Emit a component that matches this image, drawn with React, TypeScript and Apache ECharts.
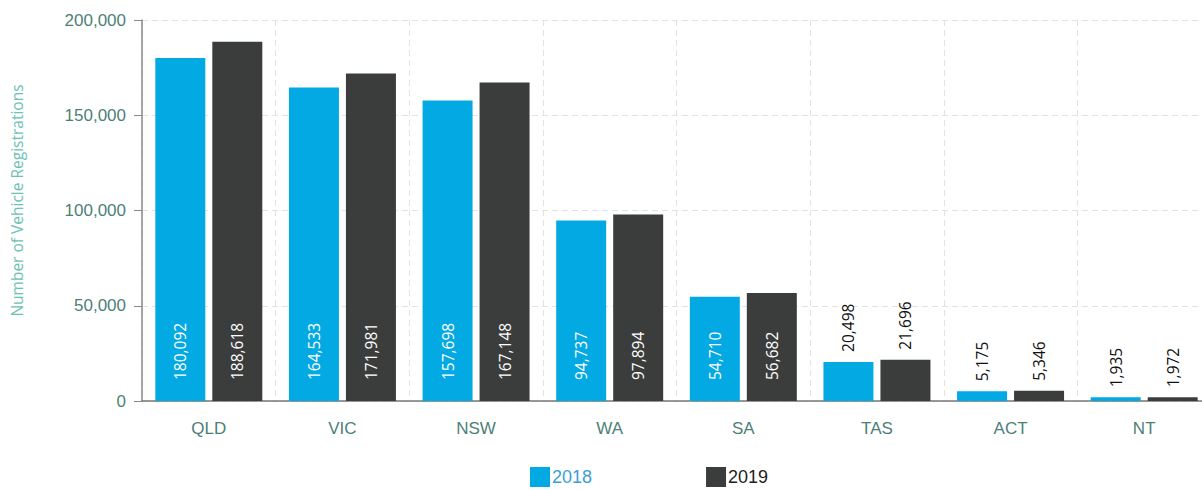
import React, { useEffect, useRef } from "react";
import * as echarts from "echarts";

const categories = ["QLD", "VIC", "NSW", "WA", "SA", "TAS", "ACT", "NT"];
const values2018 = [180092, 164533, 157698, 94737, 54710, 20498, 5175, 1935];
const values2019 = [188618, 171981, 167148, 97894, 56682, 21696, 5346, 1972];
const yTicks = { min: 0, max: 200000, interval: 50000 };

const fmt = (v: number) => v.toLocaleString("en-US");

function buildData(vals: number[]) {
  return vals.map((v) =>
    v < 30000
      ? {
          value: v,
          label: {
            show: true,
            position: "top",
            distance: 10,
            rotate: 90,
            align: "left",
            verticalAlign: "middle",
            color: "#111",
          },
        }
      : v
  );
}

export default function App() {
  const ref = useRef<HTMLDivElement>(null);
  useEffect(() => {
    document.body.style.margin = "0";
    document.body.style.overflow = "hidden";
    const chart = echarts.init(ref.current!, undefined, { renderer: "svg" });
    const labelBase = {
      show: true,
      position: "insideBottom",
      distance: 21,
      rotate: 90,
      align: "left",
      verticalAlign: "middle",
      color: "#fff",
      fontFamily: "Open Sans",
      fontSize: 15.5,
      formatter: (p: any) => fmt(p.value),
    };
    chart.setOption({
      animation: false,
      grid: { left: 142, right: 0, top: 20, bottom: 89, outerBoundsMode: "none", containLabel: false },
      legend: {
        left: 525,
        top: 462,
        itemWidth: 20,
        itemHeight: 20,
        itemGap: 114,
        icon: "rect",
        textStyle: { fontFamily: "Arial, Liberation Sans", fontSize: 18, padding: [0, 0, 0, -3] },
        data: [
          { name: "2018", textStyle: { color: "#3a9fd6" } },
          { name: "2019", textStyle: { color: "#222" } },
        ],
      },
      xAxis: {
        type: "category",
        data: categories,
        axisLine: { lineStyle: { color: "#777", width: 1.5 } },
        axisTick: { alignWithLabel: true, length: 4, lineStyle: { color: "#888" } },
        axisLabel: {
          color: "#4d7f78",
          fontFamily: "Arial, Liberation Sans",
          fontSize: 17,
          margin: 19,
        },
        splitLine: { show: true, lineStyle: { color: "#e2e2e2", type: [6, 4] } },
      },
      yAxis: {
        type: "value",
        min: yTicks.min,
        max: yTicks.max,
        interval: yTicks.interval,
        name: "Number of Vehicle Registrations",
        nameLocation: "middle",
        nameGap: 117,
        nameTextStyle: {
          color: "#6cc2b4",
          fontFamily: "Open Sans",
          fontSize: 15.5,
          padding: [0, 0, 0, 20],
        },
        axisLine: { show: true, lineStyle: { color: "#888", width: 1.5 } },
        axisTick: { show: true, length: 8, lineStyle: { color: "#888" } },
        axisLabel: {
          color: "#4d7f78",
          fontFamily: "Arial, Liberation Sans",
          fontSize: 17,
          margin: 16,
          formatter: (v: number) => fmt(v),
        },
        splitLine: { show: true, lineStyle: { color: "#e2e2e2", type: [6, 4] } },
      },
      series: [
        {
          name: "2018",
          type: "bar",
          data: buildData(values2018),
          barWidth: 50,
          barGap: "14%",
          itemStyle: { color: "#03a9e2" },
          label: labelBase,
        },
        {
          name: "2019",
          type: "bar",
          data: buildData(values2019),
          barWidth: 50,
          itemStyle: { color: "#3b3d3c" },
          label: labelBase,
        },
      ],
    });
    return () => chart.dispose();
  }, []);
  return (
    <div style={{ width: 1202, height: 490, overflow: "hidden" }}>
      <div ref={ref} style={{ width: 1211, height: 490 }} />
    </div>
  );
}
